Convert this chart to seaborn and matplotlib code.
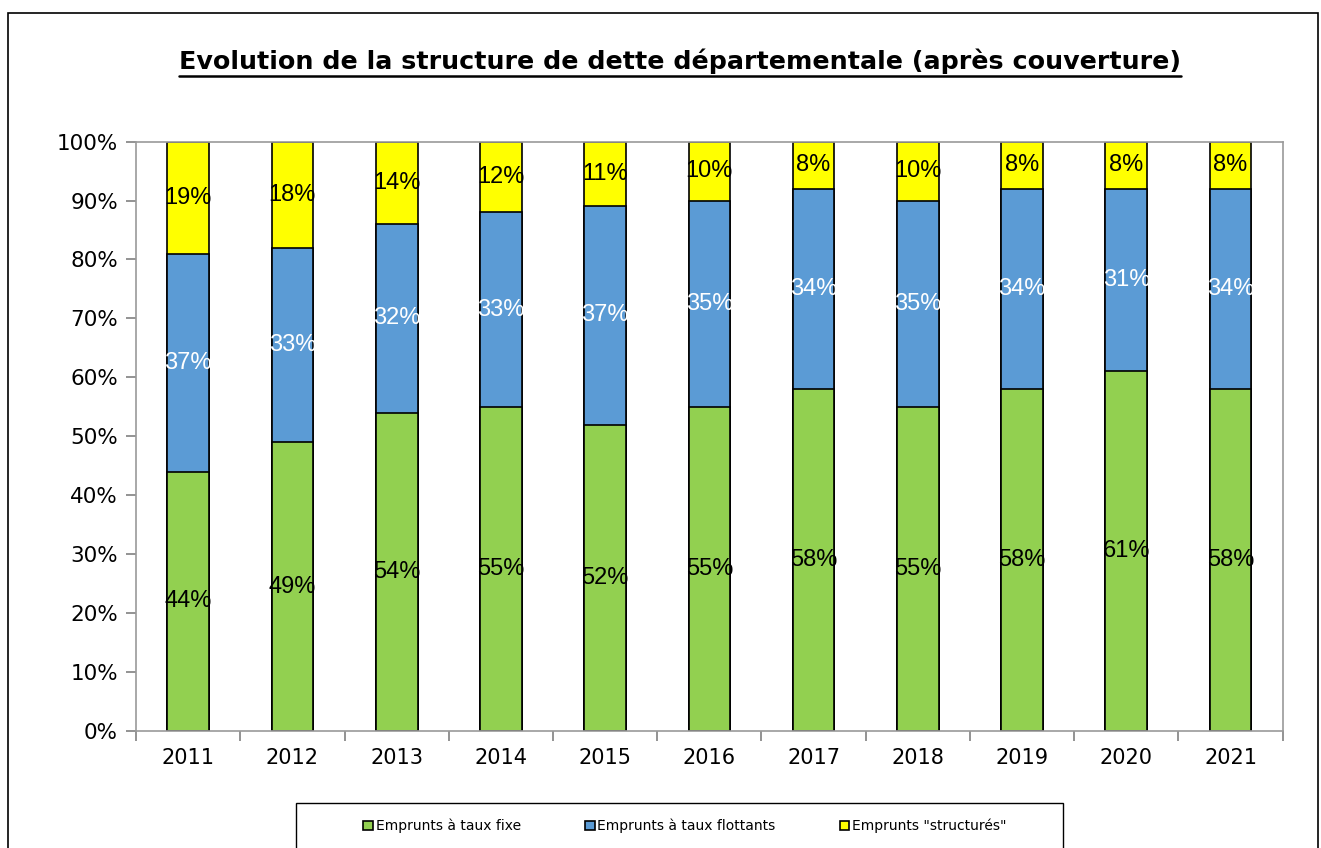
import numpy as np
import pandas as pd
import matplotlib
matplotlib.use("Agg")
import matplotlib.pyplot as plt
import seaborn as sns
from matplotlib.patches import Rectangle, Patch
from matplotlib.lines import Line2D

years = ["2011", "2012", "2013", "2014", "2015", "2016", "2017", "2018", "2019", "2020", "2021"]
fixe = [44, 49, 54, 55, 52, 55, 58, 55, 58, 61, 58]
flottants = [37, 33, 32, 33, 37, 35, 34, 35, 34, 31, 34]
structures = [19, 18, 14, 12, 11, 10, 8, 10, 8, 8, 8]

series_names = ["Emprunts à taux fixe", "Emprunts à taux flottants", 'Emprunts "structurés"']
colors = ["#92D050", "#5B9BD5", "#FFFF00"]
label_colors = ["black", "white", "black"]

df = pd.DataFrame({"year": years, "fixe": fixe, "flottants": flottants, "structures": structures})
cols = ["fixe", "flottants", "structures"]
cum = df[cols].cumsum(axis=1)

sns.set_style("white", {"text.color": "black", "xtick.color": "black", "ytick.color": "black",
                        "axes.labelcolor": "black"})
plt.rcParams["font.family"] = ["DejaVu Sans"]

fig = plt.figure(figsize=(13.21, 8.48), dpi=100)
ax = fig.add_axes([0.103, 0.138, 0.868, 0.695])

# stacked bars drawn as cumulative layers, tallest first
for i in [2, 1, 0]:
    sns.barplot(x=df["year"], y=cum[cols[i]], color=colors[i], width=0.4,
                edgecolor="black", linewidth=1.2, saturation=1, ax=ax, zorder=2)

# segment labels
for i, c in enumerate(cols):
    base = cum[c] - df[c]
    for j, v in enumerate(df[c]):
        ax.text(j, base[j] + v / 2, f"{v}%", ha="center", va="center",
                fontsize=17, family="Liberation Sans", color=label_colors[i], zorder=3)

ax.set_ylim(0, 100)
ax.set_xlim(-0.5, len(years) - 0.5)
ax.set_yticks(np.arange(0, 101, 10))
ax.set_yticklabels([f"{t}%" for t in range(0, 101, 10)], fontsize=15.5)
ax.set_xticklabels(years, fontsize=15)
ax.set_xlabel("")
ax.set_ylabel("")
ax.set_xticks(np.arange(-0.5, len(years), 1), minor=True)
ax.tick_params(axis="x", which="major", length=0, pad=12)
ax.tick_params(axis="x", which="minor", bottom=True, length=7, width=1.2, color="#808080", direction="out")
ax.tick_params(axis="y", length=7, width=1.2, color="#808080", direction="out", left=True, pad=6)
for s in ax.spines.values():
    s.set_color("#9a9a9a")
    s.set_linewidth(1.2)

# title with underline
title = fig.text(0.515, 0.928, "Evolution de la structure de dette départementale (après couverture)",
                 ha="center", va="center", fontsize=18.3, fontweight="bold", color="black")
fig.canvas.draw()
bb = title.get_window_extent().transformed(fig.transFigure.inverted())
fig.add_artist(Line2D([bb.x0, bb.x1], [bb.y0 - 0.003, bb.y0 - 0.003], color="black", lw=1.8,
                      transform=fig.transFigure))

# legend
handles = [Patch(facecolor=colors[i], edgecolor="black", linewidth=1.2) for i in range(3)]
leg = fig.legend(handles, series_names, loc="center", ncol=3,
                 bbox_to_anchor=(685 / 1321, 1 - 826 / 848), fontsize=10,
                 frameon=False, handlelength=0.7, handleheight=0.7,
                 handletextpad=0.2, columnspacing=4.6, borderaxespad=0, borderpad=0)
fig.add_artist(Rectangle((296 / 1321, -0.02), 767 / 1321, 0.02 + 45 / 848, fill=False,
                         edgecolor="black", lw=1.0, transform=fig.transFigure))

# outer chart border
fig.add_artist(Rectangle((0.006, -0.02), 0.992, 1.005, fill=False, edgecolor="black", lw=1.2,
                         transform=fig.transFigure))

fig.savefig("out.png", dpi=100)
